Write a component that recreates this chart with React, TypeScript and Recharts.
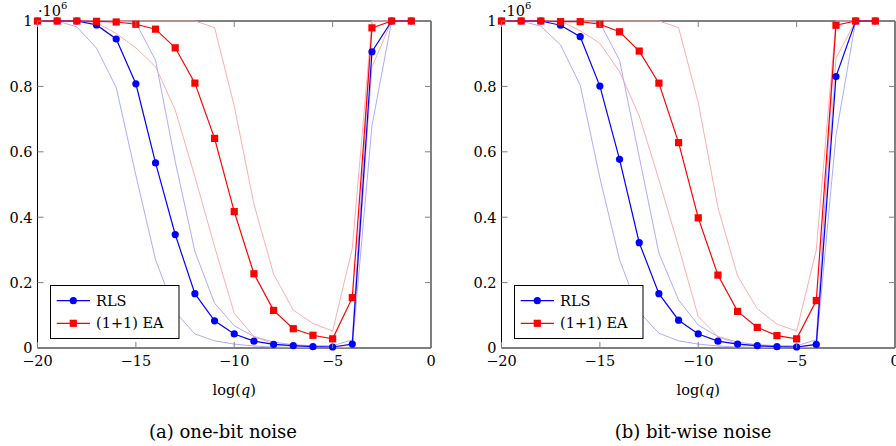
import React from 'react';
import { LineChart, Line, XAxis, YAxis, ReferenceArea } from 'recharts';

// log(q) positions
const logQ = [-20, -19, -18, -17, -16, -15, -14, -13, -12, -11, -10, -9, -8, -7, -6, -5, -4, -3, -2, -1];

// (a) one-bit noise — values in units of 10^6
const oneBitRls = [1, 1, 1, 0.988, 0.945, 0.808, 0.566, 0.347, 0.166, 0.083, 0.043, 0.021, 0.011, 0.007, 0.004, 0.003, 0.012, 0.906, 1, 1];
const oneBitRlsLo = [1, 1, 0.982, 0.917, 0.797, 0.528, 0.27, 0.11, 0.043, 0.022, 0.012, 0.006, 0.003, 0.002, 0.001, 0.001, 0.002, 0.68, 1, 1];
const oneBitRlsHi = [1, 1, 1, 1, 1, 0.995, 0.88, 0.57, 0.295, 0.137, 0.068, 0.035, 0.018, 0.01, 0.007, 0.007, 0.025, 1, 1, 1];
const oneBitEa = [1, 1, 1, 0.999, 0.997, 0.99, 0.975, 0.918, 0.81, 0.641, 0.417, 0.227, 0.115, 0.059, 0.039, 0.028, 0.154, 0.979, 1, 1];
const oneBitEaLo = [1, 1, 1, 0.995, 0.962, 0.918, 0.86, 0.728, 0.524, 0.31, 0.106, 0.035, 0.012, 0.005, 0.003, 0.002, 0.01, 0.86, 1, 1];
const oneBitEaHi = [1, 1, 1, 1, 1, 1, 1, 1, 1, 0.98, 0.74, 0.44, 0.226, 0.116, 0.075, 0.052, 0.305, 1, 1, 1];

// (b) bit-wise noise — values in units of 10^6
const bitWiseRls = [1, 1, 1, 0.987, 0.952, 0.801, 0.577, 0.322, 0.166, 0.085, 0.043, 0.021, 0.012, 0.007, 0.004, 0.003, 0.011, 0.83, 1, 1];
const bitWiseRlsLo = [1, 1, 0.984, 0.927, 0.804, 0.52, 0.27, 0.11, 0.045, 0.022, 0.012, 0.006, 0.003, 0.002, 0.001, 0.001, 0.002, 0.65, 1, 1];
const bitWiseRlsHi = [1, 1, 1, 1, 1, 0.995, 0.88, 0.585, 0.29, 0.147, 0.07, 0.035, 0.018, 0.01, 0.007, 0.007, 0.025, 1, 1, 1];
const bitWiseEa = [1, 1, 1, 0.998, 0.998, 0.99, 0.967, 0.908, 0.81, 0.628, 0.398, 0.223, 0.112, 0.063, 0.038, 0.028, 0.145, 0.987, 1, 1];
const bitWiseEaLo = [1, 1, 1, 1, 0.97, 0.932, 0.845, 0.71, 0.515, 0.31, 0.096, 0.035, 0.012, 0.005, 0.003, 0.002, 0.01, 0.886, 1, 1];
const bitWiseEaHi = [1, 1, 1, 1, 1, 1, 1, 1, 1, 0.98, 0.75, 0.43, 0.22, 0.12, 0.073, 0.052, 0.3, 1, 1, 1];

const xTicks = [-20, -15, -10, -5, 0];
const yTicks = [0, 0.2, 0.4, 0.6, 0.8, 1];
const legendNames = ['RLS', '(1+1) EA'];
const captions = ['(a) one-bit noise', '(b) bit-wise noise'];
const xLabelText = 'log(';
const xLabelVar = 'q';
const multiplierBase = '\u00b710';
const multiplierExp = '6';

const FONT = '"DejaVu Serif", serif';
const FS = 14.5;
const BLUE = '#0000ff';
const RED = '#ff0000';
const LIGHT_BLUE = '#a3a3ff';
const LIGHT_RED = '#ffa3a3';
const TICK_COLOR = '#808080';

const CHART_W = 448;
const CHART_H = 446;
const PLOT_TOP = 21;
const PLOT_BOTTOM = 348;
const PLOT_LEFT = 37.5;
const PLOT_RIGHT = 431;
const X_AXIS_H = 30;
const PANEL_OFFSETS = [0, 464];
const CAPTION_X = [223, 693];

const fmtX = (v: number) => (v < 0 ? '\u2212' + Math.abs(v) : String(v));
const fmtY = (v: number) => (v === 0 ? '0' : v === 1 ? '1' : v.toFixed(1));

const XTick = (props: any) => {
  const { x, payload } = props;
  return (
    <g>
      <line x1={x} x2={x} y1={PLOT_BOTTOM} y2={PLOT_BOTTOM - 6} stroke={TICK_COLOR} strokeWidth={1} />
      <line x1={x} x2={x} y1={PLOT_TOP} y2={PLOT_TOP + 6} stroke={TICK_COLOR} strokeWidth={1} />
      <text x={x} y={365.5} textAnchor="middle" fontFamily={FONT} fontSize={FS} fill="#000">
        {fmtX(payload.value)}
      </text>
    </g>
  );
};

const YTick = (props: any) => {
  const { y, payload } = props;
  return (
    <g>
      <line x1={PLOT_LEFT} x2={PLOT_LEFT + 6} y1={y} y2={y} stroke={TICK_COLOR} strokeWidth={1} />
      <line x1={PLOT_RIGHT - 6} x2={PLOT_RIGHT} y1={y} y2={y} stroke={TICK_COLOR} strokeWidth={1} />
      <text x={PLOT_LEFT - 5} y={y + 5.3} textAnchor="end" fontFamily={FONT} fontSize={FS} fill="#000">
        {fmtY(payload.value)}
      </text>
    </g>
  );
};

const squareDot = (p: any) => {
  if (p.cx == null || p.cy == null) return <g key={`sq-${p.index}`} />;
  return <rect key={`sq-${p.index}`} x={p.cx - 3.6} y={p.cy - 3.6} width={7.2} height={7.2} fill={RED} />;
};

type PanelProps = {
  rls: number[];
  rlsLo: number[];
  rlsHi: number[];
  ea: number[];
  eaLo: number[];
  eaHi: number[];
  left: number;
};

function Panel({ rls, rlsLo, rlsHi, ea, eaLo, eaHi, left }: PanelProps) {
  const data = logQ.map((q, i) => ({
    q,
    rls: rls[i],
    rlsLo: rlsLo[i],
    rlsHi: rlsHi[i],
    ea: ea[i],
    eaLo: eaLo[i],
    eaHi: eaHi[i],
  }));
  return (
    <div style={{ position: 'absolute', left, top: 0 }}>
      <LineChart
        width={CHART_W}
        height={CHART_H}
        data={data}
        margin={{ top: PLOT_TOP, right: CHART_W - PLOT_RIGHT, bottom: CHART_H - PLOT_BOTTOM - X_AXIS_H, left: 0 }}
      >
        <XAxis
          dataKey="q"
          type="number"
          domain={[-20, 0]}
          ticks={xTicks}
          interval={0}
          height={X_AXIS_H}
          axisLine={false}
          tickLine={false}
          tick={XTick}
        />
        <YAxis
          type="number"
          domain={[0, 1]}
          ticks={yTicks}
          interval={0}
          width={PLOT_LEFT}
          axisLine={false}
          tickLine={false}
          tick={YTick}
        />
        <ReferenceArea x1={-20} x2={0} y1={0} y2={1} fill="none" fillOpacity={0} stroke="#000" strokeWidth={1} ifOverflow="visible" />
        <Line type="linear" dataKey="rlsLo" stroke={LIGHT_BLUE} strokeWidth={0.9} dot={false} activeDot={false} isAnimationActive={false} />
        <Line type="linear" dataKey="rlsHi" stroke={LIGHT_BLUE} strokeWidth={0.9} dot={false} activeDot={false} isAnimationActive={false} />
        <Line type="linear" dataKey="eaLo" stroke={LIGHT_RED} strokeWidth={0.9} dot={false} activeDot={false} isAnimationActive={false} />
        <Line type="linear" dataKey="eaHi" stroke={LIGHT_RED} strokeWidth={0.9} dot={false} activeDot={false} isAnimationActive={false} />
        <Line
          type="linear"
          dataKey="rls"
          stroke={BLUE}
          strokeWidth={1.2}
          dot={{ r: 3.6, fill: BLUE, stroke: BLUE, strokeWidth: 0 }}
          activeDot={false}
          isAnimationActive={false}
        />
        <Line
          type="linear"
          dataKey="ea"
          stroke={RED}
          strokeWidth={1.2}
          dot={squareDot}
          activeDot={false}
          isAnimationActive={false}
        />
      </LineChart>
    </div>
  );
}

function Overlay() {
  return (
    <svg
      width={896}
      height={446}
      style={{ position: 'absolute', left: 0, top: 0, pointerEvents: 'none' }}
    >
      {PANEL_OFFSETS.map((dx, k) => (
        <g key={k} fontFamily={FONT} fill="#000">
          <text x={38 + dx} y={16} fontSize={FS}>
            {multiplierBase}
            <tspan fontSize={10} dy={-7}>
              {multiplierExp}
            </tspan>
          </text>
          <text x={(PLOT_LEFT + PLOT_RIGHT) / 2 + dx} y={395} fontSize={FS} textAnchor="middle">
            {xLabelText}
            <tspan fontStyle="italic">{xLabelVar}</tspan>)
          </text>
          <text x={CAPTION_X[k]} y={438} fontSize={18} textAnchor="middle">
            {captions[k]}
          </text>
          <g>
            <rect x={50.5 + dx} y={285.5} width={128.5} height={53} fill="#fff" stroke="#000" strokeWidth={1} />
            <line x1={56.7 + dx} x2={90 + dx} y1={300.7} y2={300.7} stroke={BLUE} strokeWidth={1.2} />
            <circle cx={73.3 + dx} cy={300.7} r={3.6} fill={BLUE} />
            <text x={96 + dx} y={305.5} fontSize={FS}>
              {legendNames[0]}
            </text>
            <line x1={56.7 + dx} x2={90 + dx} y1={323.3} y2={323.3} stroke={RED} strokeWidth={1.2} />
            <rect x={73.3 + dx - 3.6} y={323.3 - 3.6} width={7.2} height={7.2} fill={RED} />
            <text x={96 + dx} y={327.8} fontSize={FS}>
              {legendNames[1]}
            </text>
          </g>
        </g>
      ))}
    </svg>
  );
}

export default function App() {
  return (
    <div style={{ position: 'relative', width: 896, height: 446, overflow: 'hidden', background: '#fff' }}>
      <style>{`body{margin:0;}`}</style>
      <Panel
        left={PANEL_OFFSETS[0]}
        rls={oneBitRls}
        rlsLo={oneBitRlsLo}
        rlsHi={oneBitRlsHi}
        ea={oneBitEa}
        eaLo={oneBitEaLo}
        eaHi={oneBitEaHi}
      />
      <Panel
        left={PANEL_OFFSETS[1]}
        rls={bitWiseRls}
        rlsLo={bitWiseRlsLo}
        rlsHi={bitWiseRlsHi}
        ea={bitWiseEa}
        eaLo={bitWiseEaLo}
        eaHi={bitWiseEaHi}
      />
      <Overlay />
    </div>
  );
}
